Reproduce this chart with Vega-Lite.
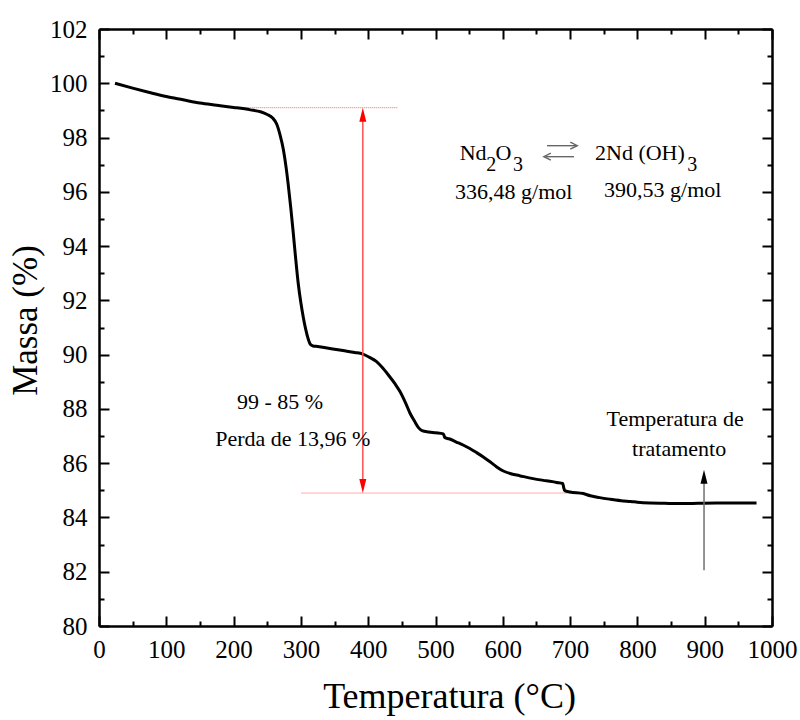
{
  "$schema": "https://vega.github.io/schema/vega-lite/v6.json",
  "width": 673,
  "height": 597,
  "autosize": {"type": "none"},
  "padding": {"left": 99, "top": 29, "right": 28, "bottom": 94},
  "background": "white",
  "config": {
    "view": {"stroke": null},
    "font": "Liberation Serif",
    "style": {
      "guide-label": {"font": "Liberation Serif", "fontSize": 25, "fill": "black"},
      "guide-title": {"font": "Liberation Serif", "fontSize": 36, "fontWeight": "normal", "fill": "black"}
    },
    "axis": {
      "grid": false,
      "domainColor": "black",
      "domainWidth": 2.5,
      "tickColor": "black",
      "tickWidth": 2,
      "labelFont": "Liberation Serif",
      "labelFontSize": 25,
      "labelColor": "black",
      "labelOverlap": false,
      "labelFlush": false,
      "titleFont": "Liberation Serif",
      "titleFontWeight": "normal",
      "titleFontSize": 36,
      "titleColor": "black"
    }
  },
  "datasets": {
    "tga": [
      {"t": 23.8, "m": 100.0}, {"t": 50, "m": 99.82}, {"t": 75, "m": 99.66}, {"t": 100, "m": 99.51},
      {"t": 125, "m": 99.39}, {"t": 150, "m": 99.27}, {"t": 175, "m": 99.19}, {"t": 200, "m": 99.11},
      {"t": 225, "m": 99.02}, {"t": 240, "m": 98.95}, {"t": 250, "m": 98.85}, {"t": 258, "m": 98.72},
      {"t": 264, "m": 98.5}, {"t": 269, "m": 98.1}, {"t": 274, "m": 97.55}, {"t": 278, "m": 96.9},
      {"t": 281, "m": 96.3}, {"t": 285, "m": 95.4}, {"t": 288.6, "m": 94.5}, {"t": 292, "m": 93.6},
      {"t": 296, "m": 92.63}, {"t": 300, "m": 91.9}, {"t": 303.4, "m": 91.4}, {"t": 307, "m": 90.95},
      {"t": 310.6, "m": 90.6}, {"t": 314, "m": 90.38}, {"t": 318, "m": 90.32}, {"t": 325, "m": 90.3},
      {"t": 332.6, "m": 90.27}, {"t": 345, "m": 90.22}, {"t": 362.5, "m": 90.15}, {"t": 380, "m": 90.08},
      {"t": 392, "m": 90.02}, {"t": 402, "m": 89.9}, {"t": 412, "m": 89.75}, {"t": 420, "m": 89.55},
      {"t": 430, "m": 89.25}, {"t": 440, "m": 88.92}, {"t": 447, "m": 88.65}, {"t": 455, "m": 88.25},
      {"t": 462, "m": 87.85}, {"t": 469.5, "m": 87.52}, {"t": 475, "m": 87.3}, {"t": 480, "m": 87.2},
      {"t": 490, "m": 87.15}, {"t": 500, "m": 87.12}, {"t": 511.6, "m": 87.08}, {"t": 513, "m": 87.0},
      {"t": 514, "m": 86.94}, {"t": 520, "m": 86.9}, {"t": 531, "m": 86.78}, {"t": 541, "m": 86.67},
      {"t": 551, "m": 86.54}, {"t": 561, "m": 86.39}, {"t": 571, "m": 86.23}, {"t": 581, "m": 86.05},
      {"t": 591, "m": 85.86}, {"t": 600, "m": 85.72}, {"t": 610.7, "m": 85.62}, {"t": 625, "m": 85.54},
      {"t": 645, "m": 85.43}, {"t": 665, "m": 85.35}, {"t": 680, "m": 85.29}, {"t": 689, "m": 85.25},
      {"t": 690.5, "m": 85.1}, {"t": 692, "m": 84.99}, {"t": 700, "m": 84.94}, {"t": 719.6, "m": 84.88},
      {"t": 730, "m": 84.8}, {"t": 744, "m": 84.73}, {"t": 760, "m": 84.67}, {"t": 779, "m": 84.61},
      {"t": 790, "m": 84.59}, {"t": 800, "m": 84.56}, {"t": 818.7, "m": 84.53}, {"t": 840, "m": 84.52},
      {"t": 868, "m": 84.51}, {"t": 890, "m": 84.52}, {"t": 917.6, "m": 84.53}, {"t": 940, "m": 84.53},
      {"t": 960, "m": 84.53}, {"t": 977, "m": 84.53}
    ],
    "guides": [
      {"x1": 207, "x2": 444, "y": 99.1},
      {"x1": 301, "x2": 720, "y": 84.9}
    ],
    "redArrow": [{"x": 392, "y1": 98.85, "y2": 85.15}],
    "blackArrow": [{"x": 899, "y1": 82.05, "y2": 85.4}],
    "eqShafts": [
      {"x1": 665.7, "x2": 709, "y": 97.7},
      {"x1": 664, "x2": 705.8, "y": 97.295}
    ],
    "eqHeads": [
      {"x": 705.5, "y": 97.7, "dir": "right"},
      {"x": 666.2, "y": 97.295, "dir": "left"}
    ],
    "redHeads": [
      {"x": 392, "y": 98.84, "dir": "up"},
      {"x": 392, "y": 85.16, "dir": "down"}
    ],
    "blackHeads": [{"x": 899, "y": 85.5, "dir": "up"}],
    "chem": [
      {"x": 536, "y": 97.18, "text": "Nd"},
      {"x": 589, "y": 97.18, "text": "O"},
      {"x": 737, "y": 97.18, "text": "2Nd (OH)"},
      {"x": 529, "y": 95.75, "text": "336,48 g/mol"},
      {"x": 750.4, "y": 95.8, "text": "390,53 g/mol"}
    ],
    "subs": [
      {"x": 575.5, "y": 96.78, "text": "2"},
      {"x": 615, "y": 96.78, "text": "3"},
      {"x": 874, "y": 96.78, "text": "3"}
    ],
    "notes": [
      {"x": 269, "y": 88.0, "text": "99 - 85 %"},
      {"x": 288, "y": 86.65, "text": "Perda de 13,96 %"},
      {"x": 856, "y": 87.36, "text": "Temperatura de"},
      {"x": 862, "y": 86.25, "text": "tratamento"}
    ]
  },
  "layer": [
    {
      "data": {"name": "guides"},
      "mark": {"type": "rule", "color": "#ff6060", "strokeWidth": 1, "strokeDash": [1, 1]},
      "encoding": {
        "x": {"field": "x1", "type": "quantitative", "scale": {"domain": [0, 1000], "nice": false, "zero": false},
          "axis": {"orient": "top", "values": [0, 100, 200, 300, 400, 500, 600, 700, 800, 900, 1000], "labels": false, "title": null, "tickSize": -10}},
        "x2": {"field": "x2"},
        "y": {"field": "y", "type": "quantitative", "scale": {"domain": [80, 102], "nice": false, "zero": false},
          "axis": {"orient": "right", "values": [80, 82, 84, 86, 88, 90, 92, 94, 96, 98, 100, 102], "labels": false, "title": null, "tickSize": -10}}
      }
    },
    {
      "data": {"name": "tga"},
      "mark": {"type": "line", "color": "black", "strokeWidth": 3, "interpolate": "monotone"},
      "encoding": {
        "x": {"field": "t", "type": "quantitative",
          "axis": {"orient": "bottom", "values": [0, 100, 200, 300, 400, 500, 600, 700, 800, 900, 1000], "format": "d", "title": "Temperatura (°C)", "tickSize": -10, "labelPadding": 21, "titlePadding": 17, "titleX": 350, "labelOverlap": false, "labelFlush": false, "labelFont": "Liberation Serif", "labelFontSize": 25, "titleFont": "Liberation Serif", "titleFontSize": 36}},
        "y": {"field": "m", "type": "quantitative",
          "axis": {"orient": "left", "values": [80, 82, 84, 86, 88, 90, 92, 94, 96, 98, 100, 102], "format": "d", "title": "Massa (%)", "tickSize": -10, "labelPadding": 22, "titlePadding": 6, "titleY": 291, "labelOverlap": false, "labelFlush": false, "labelFont": "Liberation Serif", "labelFontSize": 25, "titleFont": "Liberation Serif", "titleFontSize": 35}}
      }
    },
    {
      "data": {"name": "redArrow"},
      "mark": {"type": "rule", "color": "#ff5050", "strokeWidth": 1.5},
      "encoding": {
        "x": {"field": "x", "type": "quantitative",
          "axis": {"orient": "bottom", "values": [50, 150, 250, 350, 450, 550, 650, 750, 850, 950], "labels": false, "domain": false, "title": null, "tickSize": -5}},
        "y": {"field": "y1", "type": "quantitative",
          "axis": {"orient": "left", "values": [81, 83, 85, 87, 89, 91, 93, 95, 97, 99, 101], "labels": false, "domain": false, "title": null, "tickSize": -5}},
        "y2": {"field": "y2"}
      }
    },
    {
      "data": {"name": "blackArrow"},
      "mark": {"type": "rule", "color": "#707070", "strokeWidth": 1.5},
      "encoding": {
        "x": {"field": "x", "type": "quantitative",
          "axis": {"orient": "top", "values": [50, 150, 250, 350, 450, 550, 650, 750, 850, 950], "labels": false, "domain": false, "title": null, "tickSize": -5}},
        "y": {"field": "y1", "type": "quantitative",
          "axis": {"orient": "right", "values": [81, 83, 85, 87, 89, 91, 93, 95, 97, 99, 101], "labels": false, "domain": false, "title": null, "tickSize": -5}},
        "y2": {"field": "y2"}
      }
    },
    {
      "data": {"name": "eqShafts"},
      "mark": {"type": "rule", "color": "#666666", "strokeWidth": 1.4},
      "encoding": {
        "x": {"field": "x1", "type": "quantitative", "axis": null},
        "x2": {"field": "x2"},
        "y": {"field": "y", "type": "quantitative", "axis": null}
      }
    },
    {
      "data": {"name": "eqHeads"},
      "mark": {"type": "point", "filled": false, "stroke": "#666666", "strokeWidth": 1.4, "size": 49, "opacity": 1},
      "encoding": {
        "x": {"field": "x", "type": "quantitative", "axis": null},
        "y": {"field": "y", "type": "quantitative", "axis": null},
        "shape": {"field": "dir", "type": "nominal", "legend": null,
          "scale": {"domain": ["right", "left", "up", "down"], "range": ["M-1,-1L1,0L-1,1", "M1,-1L-1,0L1,1", "M0,-1L0.5,1L-0.5,1Z", "M0,1L0.5,-1L-0.5,-1Z"]}}
      }
    },
    {
      "data": {"name": "redHeads"},
      "mark": {"type": "point", "filled": true, "color": "red", "size": 196, "opacity": 1},
      "encoding": {
        "x": {"field": "x", "type": "quantitative", "axis": null},
        "y": {"field": "y", "type": "quantitative", "axis": null},
        "shape": {"field": "dir", "type": "nominal", "legend": null}
      }
    },
    {
      "data": {"name": "blackHeads"},
      "mark": {"type": "point", "filled": true, "color": "black", "size": 196, "opacity": 1, "shape": "M0,-1L0.5,1L-0.5,1Z"},
      "encoding": {
        "x": {"field": "x", "type": "quantitative", "axis": null},
        "y": {"field": "y", "type": "quantitative", "axis": null}
      }
    },
    {
      "data": {"name": "chem"},
      "mark": {"type": "text", "font": "Liberation Serif", "fontSize": 22, "align": "left", "baseline": "alphabetic", "color": "black"},
      "encoding": {
        "x": {"field": "x", "type": "quantitative", "axis": null},
        "y": {"field": "y", "type": "quantitative", "axis": null},
        "text": {"field": "text"}
      }
    },
    {
      "data": {"name": "subs"},
      "mark": {"type": "text", "font": "Liberation Serif", "fontSize": 20, "align": "left", "baseline": "alphabetic", "color": "black"},
      "encoding": {
        "x": {"field": "x", "type": "quantitative", "axis": null},
        "y": {"field": "y", "type": "quantitative", "axis": null},
        "text": {"field": "text"}
      }
    },
    {
      "data": {"name": "notes"},
      "mark": {"type": "text", "font": "Liberation Serif", "fontSize": 22, "align": "center", "baseline": "alphabetic", "color": "black"},
      "encoding": {
        "x": {"field": "x", "type": "quantitative", "axis": null},
        "y": {"field": "y", "type": "quantitative", "axis": null},
        "text": {"field": "text"}
      }
    }
  ],
  "resolve": {"axis": {"x": "independent", "y": "independent"}}
}
